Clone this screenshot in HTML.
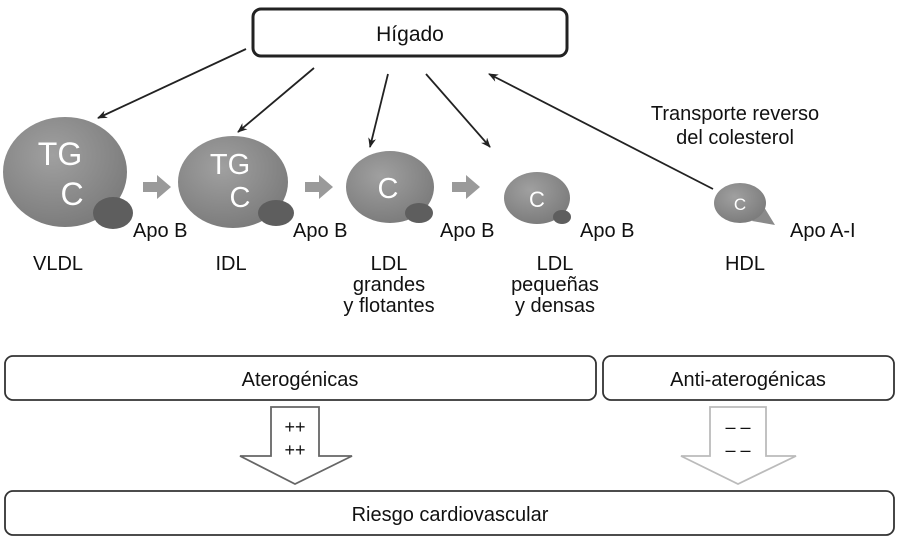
<!DOCTYPE html>
<html><head><meta charset="utf-8"><style>
html,body{margin:0;padding:0;background:#fff}
svg{display:block}
text{font-family:"Liberation Sans",sans-serif;fill:#111}
</style></head><body>
<svg width="900" height="542" viewBox="0 0 900 542">
<defs>
<marker id="ah" markerWidth="10" markerHeight="8" refX="9" refY="4" orient="auto" markerUnits="userSpaceOnUse">
<path d="M0,0 L10,4 L0,8 L3,4 Z" fill="#222"/></marker>
<radialGradient id="g1" cx="40%" cy="35%" r="70%"><stop offset="0" stop-color="#a0a0a0"/><stop offset="1" stop-color="#7a7a7a"/></radialGradient>
</defs>
<rect x="253" y="9" width="314" height="47" rx="8" fill="#fff" stroke="#222" stroke-width="3"/>
<text x="410" y="41" font-size="21" text-anchor="middle">Hígado</text>
<g stroke="#222" stroke-width="1.8" fill="none" marker-end="url(#ah)">
<line x1="246" y1="49" x2="98" y2="118"/>
<line x1="314" y1="68" x2="238" y2="132"/>
<line x1="388" y1="74" x2="370" y2="147"/>
<line x1="426" y1="74" x2="490" y2="147"/>
<line x1="713" y1="189" x2="489" y2="74"/>
</g>
<text x="735" y="120" font-size="20" text-anchor="middle">Transporte reverso</text>
<text x="735" y="144" font-size="20" text-anchor="middle">del colesterol</text>
<!-- particles -->
<ellipse cx="65" cy="172" rx="62" ry="55" fill="url(#g1)"/>
<ellipse cx="113" cy="213" rx="20" ry="16" fill="#5e5e5e"/>
<text x="60" y="165" font-size="32" fill="#fff" style="fill:#fff" text-anchor="middle">TG</text>
<text x="72" y="205" font-size="32" style="fill:#fff" text-anchor="middle">C</text>
<ellipse cx="233" cy="182" rx="55" ry="46" fill="url(#g1)"/>
<ellipse cx="276" cy="213" rx="18" ry="13" fill="#5e5e5e"/>
<text x="230" y="174" font-size="29" style="fill:#fff" text-anchor="middle">TG</text>
<text x="240" y="207" font-size="29" style="fill:#fff" text-anchor="middle">C</text>
<ellipse cx="390" cy="187" rx="44" ry="36" fill="url(#g1)"/>
<ellipse cx="419" cy="213" rx="14" ry="10" fill="#5e5e5e"/>
<text x="388" y="198" font-size="29" style="fill:#fff" text-anchor="middle">C</text>
<ellipse cx="537" cy="198" rx="33" ry="26" fill="url(#g1)"/>
<ellipse cx="562" cy="217" rx="9" ry="7" fill="#5e5e5e"/>
<text x="537" y="207" font-size="22" style="fill:#fff" text-anchor="middle">C</text>
<path d="M752,221 L775,225 L764,207 Z" fill="#8a8a8a"/>
<ellipse cx="740" cy="203" rx="26" ry="20" fill="url(#g1)"/>
<text x="740" y="210" font-size="17" style="fill:#fff" text-anchor="middle">C</text>
<!-- grey arrows -->
<g fill="#9a9a9a">
<path d="M143,182 h14 v-7 l14,12 l-14,12 v-7 h-14 z"/>
<path d="M305,182 h14 v-7 l14,12 l-14,12 v-7 h-14 z"/>
<path d="M452,182 h14 v-7 l14,12 l-14,12 v-7 h-14 z"/>
</g>
<g font-size="20">
<text x="133" y="237">Apo B</text>
<text x="293" y="237">Apo B</text>
<text x="440" y="237">Apo B</text>
<text x="580" y="237">Apo B</text>
<text x="790" y="237">Apo A-I</text>
<text x="58" y="270" text-anchor="middle">VLDL</text>
<text x="231" y="270" text-anchor="middle">IDL</text>
<text x="389" y="270" text-anchor="middle">LDL</text>
<text x="389" y="291" text-anchor="middle">grandes</text>
<text x="389" y="312" text-anchor="middle">y flotantes</text>
<text x="555" y="270" text-anchor="middle">LDL</text>
<text x="555" y="291" text-anchor="middle">pequeñas</text>
<text x="555" y="312" text-anchor="middle">y densas</text>
<text x="745" y="270" text-anchor="middle">HDL</text>
</g>
<rect x="5" y="356" width="591" height="44" rx="8" fill="#fff" stroke="#333" stroke-width="1.8"/>
<text x="300" y="386" font-size="20" text-anchor="middle">Aterogénicas</text>
<rect x="603" y="356" width="291" height="44" rx="8" fill="#fff" stroke="#333" stroke-width="1.8"/>
<text x="748" y="386" font-size="20" text-anchor="middle">Anti-aterogénicas</text>
<path d="M271,407 H319 V456 H352 L295,484 L240,456 H271 Z" fill="#fff" stroke="#666" stroke-width="1.8"/>
<text x="295" y="433" font-size="18" text-anchor="middle">++</text>
<text x="295" y="456" font-size="18" text-anchor="middle">++</text>
<path d="M710,407 H766 V456 H796 L738,484 L681,456 H710 Z" fill="#fff" stroke="#bbb" stroke-width="1.8"/>
<text x="738" y="433" font-size="18" text-anchor="middle">– –</text>
<text x="738" y="456" font-size="18" text-anchor="middle">– –</text>
<rect x="5" y="491" width="889" height="44" rx="8" fill="#fff" stroke="#333" stroke-width="1.8"/>
<text x="450" y="521" font-size="20" text-anchor="middle">Riesgo cardiovascular</text>
</svg>
</body></html>
